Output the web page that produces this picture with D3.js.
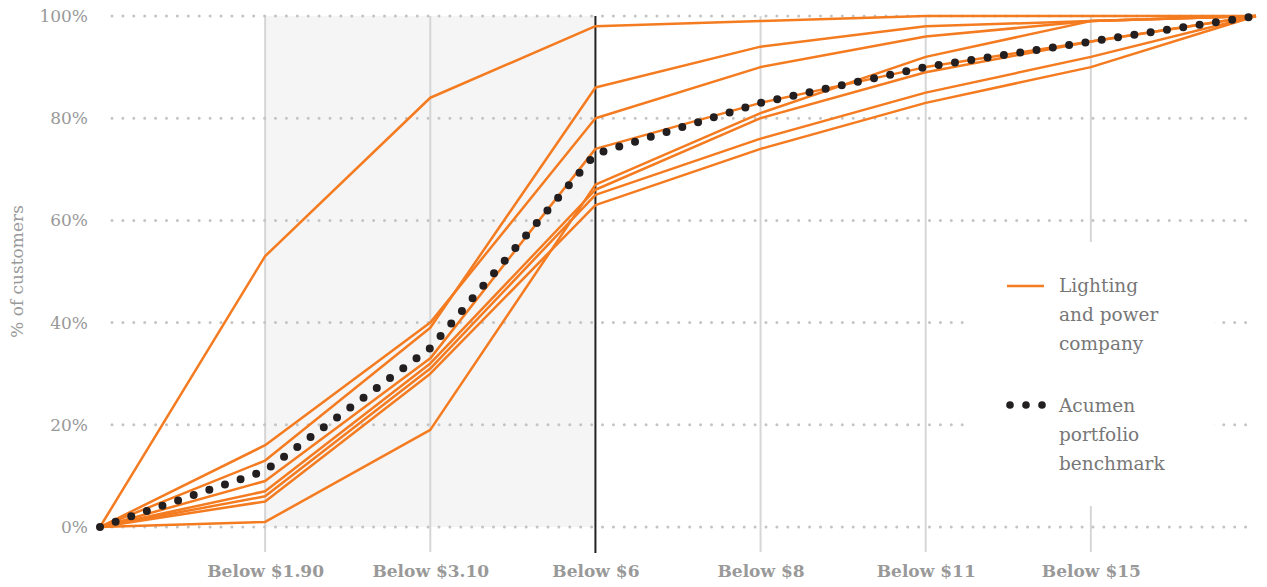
<!DOCTYPE html>
<html>
<head>
<meta charset="utf-8">
<script src="https://cdn.jsdelivr.net/npm/d3@7"></script>
<style>
  html, body { margin: 0; padding: 0; background: #fff; }
  svg { display: block; }
</style>
</head>
<body>
<svg id="chart" width="1267" height="587"></svg>
<script>
// ---- data ----
const pointKeys = ["start", "Below $1.90", "Below $3.10", "Below $6", "Below $8", "Below $11", "Below $15", "end"];
const tickLabels = ["Below $1.90", "Below $3.10", "Below $6", "Below $8", "Below $11", "Below $15"];
const yTicks = [0, 20, 40, 60, 80, 100];

const company1 = [0, 53, 84, 98, 99, 100, 100, 100];
const company2 = [0, 16, 40, 80, 90, 96, 99, 100];
const company3 = [0, 13, 39, 86, 94, 98, 99, 100];
const company4 = [0, 9, 33, 74, 83, 90, 95, 100];
const company5 = [0, 1, 19, 67, 81, 92, 99, 100];
const company6 = [0, 7, 32, 66, 80, 89, 95, 100];
const company7 = [0, 6, 31, 65, 76, 85, 92, 100];
const company8 = [0, 5, 30, 63, 74, 83, 90, 100];
const benchmark = [0, 11, 35, 73, 83, 90, 95, 100];

const companies = [company1, company2, company3, company4, company5, company6, company7, company8];

const legendItems = [
  { type: "line", lines: ["Lighting", "and power", "company"] },
  { type: "dots", lines: ["Acumen", "portfolio", "benchmark"] }
];

// ---- scales ----
const svg = d3.select("#chart");
const x = d3.scalePoint().domain(pointKeys).range([100, 1256]);
const y = d3.scaleLinear().domain([0, 100]).range([527, 16]);

const orange = "#f47b20";
const gray = "#999";
const fontSerif = "'DejaVu Serif', 'Liberation Serif', serif";

// shaded band between $1.90 and $6
svg.append("rect")
  .attr("x", x("Below $1.90"))
  .attr("y", y(100))
  .attr("width", x("Below $6") - x("Below $1.90"))
  .attr("height", y(0) - y(100))
  .attr("fill", "#f5f5f5");

// vertical grid lines
svg.append("g").selectAll("line")
  .data(tickLabels.filter(d => d !== "Below $6"))
  .join("line")
  .attr("x1", d => x(d)).attr("x2", d => x(d))
  .attr("y1", y(100)).attr("y2", 552)
  .attr("stroke", "#d6d6d6")
  .attr("stroke-width", 2);

// horizontal dotted grid lines
svg.append("g").selectAll("line")
  .data(yTicks)
  .join("line")
  .attr("x1", x("start") + 12).attr("x2", x("end"))
  .attr("y1", d => y(d)).attr("y2", d => y(d))
  .attr("stroke", "#c4c4c4")
  .attr("stroke-width", 3)
  .attr("stroke-linecap", "round")
  .attr("stroke-dasharray", "0 10.9");

// legend background (interrupts grid)
svg.append("rect")
  .attr("x", 970).attr("y", 242)
  .attr("width", 244).attr("height", 264)
  .attr("fill", "#fff");

// $6 threshold line
svg.append("line")
  .attr("x1", x("Below $6")).attr("x2", x("Below $6"))
  .attr("y1", y(100)).attr("y2", 553)
  .attr("stroke", "#222")
  .attr("stroke-width", 2);

// company lines
const line = d3.line()
  .x((d, i) => x(pointKeys[i]))
  .y(d => y(d));

svg.append("g").selectAll("path")
  .data(companies)
  .join("path")
  .attr("d", line)
  .attr("fill", "none")
  .attr("stroke", orange)
  .attr("stroke-width", 2.5)
  .attr("stroke-linejoin", "round");

// benchmark dotted line
svg.append("path")
  .attr("d", line(benchmark))
  .attr("fill", "none")
  .attr("stroke", "#231f20")
  .attr("stroke-width", 8)
  .attr("stroke-linecap", "round")
  .attr("stroke-dasharray", "0 16.5");

// y axis
const yAxis = svg.append("g")
  .attr("transform", "translate(88,0)")
  .call(d3.axisLeft(y).tickValues(yTicks).tickSize(0).tickFormat(d => d + "%"));
yAxis.select(".domain").remove();
yAxis.selectAll("text")
  .attr("x", 0)
  .attr("fill", gray)
  .style("font-family", fontSerif)
  .style("font-size", "17px");

svg.append("text")
  .attr("transform", `translate(23,${y(50)}) rotate(-90)`)
  .attr("text-anchor", "middle")
  .attr("fill", gray)
  .style("font-family", fontSerif)
  .style("font-size", "17px")
  .text("% of customers");

// x axis
const xAxis = svg.append("g")
  .attr("transform", "translate(0,560)")
  .call(d3.axisBottom(x).tickValues(tickLabels).tickSize(0));
xAxis.select(".domain").remove();
xAxis.selectAll("text")
  .attr("y", 5)
  .attr("fill", gray)
  .style("font-family", fontSerif)
  .style("font-weight", "bold")
  .style("font-size", "17px");

// legend
const lg = svg.append("g");
const legendTop = [292, 412];
legendItems.forEach((item, i) => {
  const g = lg.append("g").attr("transform", `translate(0,${legendTop[i]})`);
  if (item.type === "line") {
    g.append("line")
      .attr("x1", 1007).attr("x2", 1044)
      .attr("y1", -6).attr("y2", -6)
      .attr("stroke", orange).attr("stroke-width", 2.5);
  } else {
    g.selectAll("circle").data([1010, 1026, 1042]).join("circle")
      .attr("cx", d => d).attr("cy", -7).attr("r", 3.8)
      .attr("fill", "#231f20");
  }
  g.selectAll("text").data(item.lines).join("text")
    .attr("x", 1059)
    .attr("y", (d, j) => j * 29)
    .attr("fill", "#777")
    .style("font-family", fontSerif)
    .style("font-size", "18.5px")
    .text(d => d);
});
</script>
</body>
</html>
